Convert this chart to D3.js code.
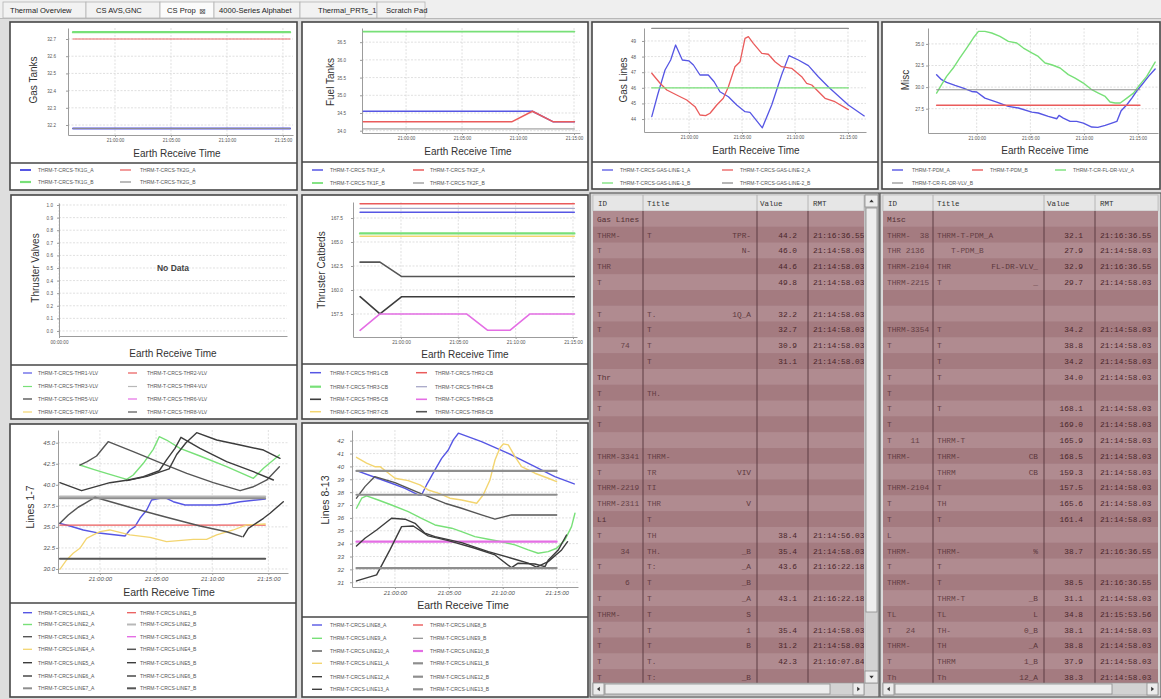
<!DOCTYPE html>
<html><head><meta charset="utf-8">
<script src="https://cdn.jsdelivr.net/npm/d3@7"></script>
<style>
html,body{margin:0;padding:0;background:#dedede;overflow:hidden}
svg{display:block;font-family:"Liberation Sans",Arial,sans-serif}
</style></head><body>
<script>
// ---------- tab bar ----------
const tabNames = ["Thermal Overview", "CS AVS,GNC", "CS Prop", "4000-Series Alphabet", "Thermal_PRTs_1", "Scratch Pad"];

// ---------- Gas Tanks ----------
const tankTK1G_A = [["20:56:15", 32.18], ["21:15:38", 32.18]];
const tankTK2G_A = [["20:56:15", 32.70], ["21:15:38", 32.70]];
const tankTK1G_B = [["20:56:15", 32.74], ["21:15:38", 32.74]];
const tankTK2G_B = [["20:56:15", 32.18], ["21:15:38", 32.18]];
const tankTicks = [32.2, 32.3, 32.4, 32.5, 32.6, 32.7];

// ---------- Fuel Tanks ----------
const fuelTK1F_A = [["20:56:11", 34.55], ["21:11:17", 34.55], ["21:13:09", 34.25], ["21:15:02", 34.25]];
const fuelTK2F_A = [["20:56:11", 34.25], ["21:09:26", 34.25], ["21:11:17", 34.55], ["21:13:09", 34.25], ["21:15:02", 34.25]];
const fuelTK1F_B = [["20:56:11", 36.8], ["21:15:02", 36.8]];
const fuelTK2F_B = [["20:56:11", 34.05], ["21:15:02", 34.05]];
const fuelTicks = [34.0, 34.5, 35.0, 35.5, 36.0, 36.5];

// ---------- Gas Lines ----------
const gasLine1A = [["20:56:29", 44.15], ["20:57:02", 45.54], ["20:57:44", 47.14], ["20:58:16", 47.78], ["20:58:44", 48.74],
  ["20:59:22", 47.78], ["21:00:00", 47.72], ["21:00:25", 47.46], ["21:01:02", 46.82], ["21:01:49", 46.82], ["21:02:22", 46.39],
  ["21:02:55", 45.75], ["21:03:43", 45.43], ["21:04:30", 44.9], ["21:05:17", 44.47], ["21:05:45", 44.43], ["21:06:55", 43.44],
  ["21:07:48", 44.9], ["21:08:44", 46.82], ["21:09:26", 48.06], ["21:10:19", 47.78], ["21:11:16", 47.42], ["21:12:12", 46.71],
  ["21:13:08", 46.07], ["21:15:02", 44.9], ["21:16:32", 44.2]];
const gasLine2A = [["20:56:29", 46.93], ["20:57:16", 46.29], ["20:57:54", 45.86], ["20:58:50", 45.54], ["20:59:47", 45.22],
  ["21:00:34", 44.79], ["21:01:02", 44.26], ["21:01:34", 44.22], ["21:01:59", 44.37], ["21:02:37", 44.9], ["21:03:14", 45.33],
  ["21:03:43", 46.07], ["21:04:20", 47.35], ["21:04:49", 47.67], ["21:05:17", 49.17], ["21:05:36", 49.28], ["21:06:04", 48.85],
  ["21:06:52", 48.21], ["21:07:29", 48.15], ["21:08:07", 47.67], ["21:08:44", 47.35], ["21:09:41", 47.25], ["21:10:38", 46.71],
  ["21:11:06", 46.29], ["21:11:35", 46.18], ["21:12:50", 45.33], ["21:13:46", 45.11], ["21:15:02", 44.6]];
const gasLine1B = [["20:56:29", 46.0], ["21:15:02", 46.0]];
const gasLine2B = [["20:56:29", 49.8], ["21:15:02", 49.8]];
const gasLineTicks = [44, 45, 46, 47, 48, 49];

// ---------- Misc ----------
const pdmA = [["20:56:16", 31.44], ["20:56:44", 30.86], ["20:57:12", 30.55], ["20:57:59", 30.2], ["20:58:45", 29.89],
  ["20:59:32", 29.5], ["21:00:00", 29.43], ["21:00:46", 28.73], ["21:01:52", 28.27], ["21:02:57", 27.77], ["21:03:53", 27.58],
  ["21:05:08", 27.11], ["21:05:44", 27.0], ["21:06:40", 26.61], ["21:07:28", 26.34], ["21:07:40", 26.73], ["21:08:04", 26.42],
  ["21:08:42", 26.03], ["21:09:19", 26.03], ["21:09:56", 25.84], ["21:10:43", 25.38], ["21:11:17", 25.34], ["21:11:58", 25.57],
  ["21:12:35", 25.84], ["21:13:03", 26.03], ["21:13:27", 27.27], ["21:13:59", 27.96], ["21:14:27", 28.73], ["21:14:55", 29.58],
  ["21:15:23", 30.28], ["21:16:00", 31.24], ["21:16:37", 32.1]];
const pdmB = [["20:56:16", 27.9], ["21:15:12", 27.9]];
const flDrVlvA = [["20:56:16", 29.31], ["20:56:44", 30.28], ["20:57:12", 31.24], ["20:57:49", 32.21], ["20:58:26", 33.37],
  ["20:59:04", 34.52], ["20:59:41", 35.68], ["21:00:10", 36.45], ["21:00:46", 36.45], ["21:01:24", 36.26], ["21:02:10", 35.87],
  ["21:02:57", 35.29], ["21:03:44", 35.1], ["21:04:21", 34.52], ["21:05:08", 33.95], ["21:05:44", 33.55], ["21:06:22", 32.79],
  ["21:06:59", 32.59], ["21:07:46", 32.21], ["21:08:32", 31.44], ["21:09:10", 31.05], ["21:09:56", 30.47], ["21:10:43", 29.7],
  ["21:11:20", 29.31], ["21:11:58", 28.92], ["21:12:25", 28.27], ["21:12:53", 28.16], ["21:13:22", 28.16], ["21:13:59", 28.73],
  ["21:14:36", 29.31], ["21:15:04", 30.08], ["21:15:50", 31.24], ["21:16:37", 32.9]];
const flDrVlvB = [["20:56:16", 29.7], ["21:15:12", 29.7]];
const miscTicks = [27.5, 30.0, 32.5, 35.0];

// ---------- Thruster Valves (no samples received) ----------
const thrVlv1 = [], thrVlv2 = [], thrVlv3 = [], thrVlv4 = [], thrVlv5 = [], thrVlv6 = [], thrVlv7 = [], thrVlv8 = [];
const valveTicks = [0, 0.1, 0.2, 0.3, 0.4, 0.5, 0.6, 0.7, 0.8, 0.9, 1.0];

// ---------- Thruster Catbeds ----------
const thr1CB = [["20:56:26", 168.1], ["21:15:07", 168.1]];
const thr2CB = [["20:56:26", 169.0], ["21:15:07", 169.0]];
const thr3CB = [["20:56:26", 165.9], ["21:15:07", 165.9]];
const thr4CB = [["20:56:26", 168.5], ["21:15:07", 168.5]];
const thr5CB = [["20:56:26", 159.3], ["20:58:10", 157.5], ["21:00:04", 159.3], ["21:15:07", 159.3]];
const thr6CB = [["20:56:26", 155.8], ["20:58:10", 157.5], ["21:05:43", 157.5], ["21:07:34", 155.8], ["21:09:30", 155.8], ["21:11:15", 157.5], ["21:15:07", 157.5]];
const thr7CB = [["20:56:26", 165.6], ["21:15:07", 165.6]];
const thr8CB = [["20:56:26", 162.9], ["20:58:10", 162.9], ["21:00:04", 161.4], ["21:15:07", 161.4]];
const catbedTicks = [157.5, 160.0, 162.5, 165.0, 167.5];

// ---------- Lines 1-7 ----------
const line1A = [["20:56:26", 35.42], ["20:57:20", 35.1], ["20:58:31", 34.63], ["20:59:42", 34.31], ["21:00:53", 34.12],
  ["21:02:14", 33.92], ["21:02:40", 34.63], ["21:03:07", 35.02], ["21:03:34", 36.02], ["21:04:10", 37.0], ["21:04:36", 38.19],
  ["21:05:21", 38.39], ["21:05:56", 38.39], ["21:06:32", 37.99], ["21:07:35", 37.6], ["21:10:24", 37.6], ["21:11:26", 37.72],
  ["21:12:29", 37.99], ["21:14:43", 38.3]];
const line1B = [["20:56:26", 35.2], ["21:14:43", 35.2]];
const line2A = [["20:58:13", 42.35], ["20:59:25", 41.84], ["21:00:35", 41.36], ["21:02:23", 40.65], ["21:02:58", 41.16],
  ["21:03:52", 42.55], ["21:04:45", 44.21], ["21:05:17", 45.71], ["21:05:56", 45.32], ["21:07:08", 44.33], ["21:08:55", 43.42],
  ["21:11:17", 42.15], ["21:13:40", 40.77], ["21:14:34", 41.96], ["21:15:59", 43.54]];
const line2B = [["20:56:26", 38.6], ["21:14:43", 38.6]];
const line3A = [["20:58:13", 42.35], ["20:58:52", 42.75], ["20:59:42", 43.42], ["21:00:44", 45.12], ["21:02:58", 43.93],
  ["21:05:21", 42.63], ["21:07:44", 41.36], ["21:10:06", 40.25], ["21:12:29", 39.3], ["21:13:40", 39.77], ["21:14:52", 40.57],
  ["21:15:59", 42.15]];
const line3B = [];
const line4A = [["20:56:26", 29.96], ["20:57:02", 31.07], ["20:57:37", 31.86], ["20:58:13", 32.45], ["20:58:49", 33.64],
  ["20:59:25", 34.04], ["21:00:00", 34.43], ["21:00:53", 34.63], ["21:02:40", 34.04], ["21:04:28", 33.76], ["21:05:56", 33.24],
  ["21:08:19", 33.52], ["21:09:30", 33.52], ["21:10:24", 34.04], ["21:11:53", 34.63], ["21:13:04", 35.23], ["21:14:43", 35.34]];
const line4B = [["20:56:26", 35.43], ["20:57:11", 36.41], ["20:58:04", 37.33], ["20:58:40", 37.8], ["20:59:33", 38.51],
  ["21:02:58", 37.21], ["21:05:56", 36.14], ["21:08:55", 35.1], ["21:11:17", 34.43], ["21:12:38", 33.84]];
const line5A = [["20:56:26", 40.25], ["20:58:22", 39.3], ["21:00:53", 40.25], ["21:02:31", 40.57], ["21:03:52", 40.96],
  ["21:05:17", 41.67], ["21:05:56", 42.95], ["21:06:41", 44.33], ["21:07:13", 45.64], ["21:08:55", 44.33], ["21:11:17", 42.75],
  ["21:13:40", 41.56], ["21:15:27", 40.57]];
const line5B = [["21:12:46", 33.84], ["21:13:13", 34.83], ["21:14:34", 36.02], ["21:15:09", 36.62], ["21:16:20", 37.99]];
const line6A = [["21:02:23", 40.5], ["21:04:12", 41.0], ["21:06:10", 41.9], ["21:06:50", 43.6], ["21:07:40", 45.0],
  ["21:08:37", 46.19], ["21:10:24", 45.32], ["21:12:29", 44.73], ["21:14:34", 44.13], ["21:16:02", 43.14]];
const line6B = [];
const line7A = [["20:56:26", 38.4], ["21:14:43", 38.4]];
const line7B = [["20:56:26", 31.2], ["21:14:43", 31.2]];
const lines17Ticks = [30.0, 32.5, 35.0, 37.5, 40.0, 42.5, 45.0];

// ---------- Lines 8-13 ----------
const line8A = [["20:56:26", 39.67], ["20:58:08", 39.16], ["20:59:41", 38.69], ["21:00:56", 38.3], ["21:02:10", 37.78],
  ["21:02:28", 37.78], ["21:02:56", 38.56], ["21:03:43", 39.73], ["21:04:20", 40.63], ["21:04:57", 41.28], ["21:05:25", 42.06],
  ["21:05:53", 42.58], ["21:08:02", 41.92], ["21:10:31", 41.02], ["21:12:59", 39.98], ["21:14:50", 39.2], ["21:16:38", 38.64]];
const line8B = [];
const line9A = [["20:56:26", 36.75], ["20:56:55", 37.53], ["20:57:22", 37.71], ["20:58:27", 37.39], ["20:59:41", 37.0],
  ["21:01:14", 36.49], ["21:02:28", 35.97], ["21:03:43", 35.45], ["21:05:16", 35.2], ["21:06:11", 34.93], ["21:07:25", 34.54],
  ["21:08:40", 34.34], ["21:09:54", 34.15], ["21:11:08", 33.9], ["21:12:22", 33.51], ["21:13:17", 33.25], ["21:14:13", 33.38],
  ["21:15:00", 33.64], ["21:15:46", 34.29], ["21:16:23", 35.32], ["21:16:42", 36.36]];
const line9B = [];
const line10A = [["20:56:26", 37.53], ["20:57:13", 38.43], ["20:58:08", 39.21], ["21:00:00", 38.74], ["21:02:28", 37.86],
  ["21:04:38", 37.14], ["21:06:11", 36.75], ["21:08:02", 36.23], ["21:09:17", 35.9], ["21:10:49", 36.23], ["21:15:00", 36.23]];
const line10B = [["20:56:26", 34.15], ["21:15:00", 34.15]];
const line11A = [["20:56:26", 40.71], ["20:57:22", 40.25], ["20:58:08", 39.98], ["20:58:37", 39.98], ["20:59:14", 39.59],
  ["21:00:00", 39.08], ["21:01:14", 38.9], ["21:02:19", 38.56], ["21:03:05", 38.17], ["21:04:01", 37.92], ["21:05:06", 37.53],
  ["21:06:11", 37.39], ["21:07:35", 37.14], ["21:08:11", 37.78], ["21:08:49", 38.95], ["21:09:17", 40.5], ["21:09:44", 41.41],
  ["21:10:03", 41.75], ["21:10:31", 41.67], ["21:11:08", 40.76], ["21:11:45", 39.98], ["21:12:59", 39.47], ["21:14:13", 39.08],
  ["21:15:00", 38.82]];
const line11B = [["20:56:26", 39.65], ["21:15:00", 39.65]];
const line12A = [["20:56:26", 33.82], ["20:57:13", 34.42], ["20:58:18", 35.06], ["20:59:41", 35.97], ["21:00:56", 35.9],
  ["21:01:52", 35.58], ["21:02:47", 34.81], ["21:03:43", 34.54], ["21:06:11", 34.08], ["21:08:40", 33.38], ["21:11:08", 32.79],
  ["21:12:22", 32.48], ["21:13:08", 32.17], ["21:14:13", 32.6], ["21:15:28", 33.51], ["21:16:01", 34.15]];
const line12B = [["20:56:26", 37.8], ["21:15:00", 37.8]];
const line13A = [["20:56:26", 31.1], ["20:58:18", 31.57], ["20:59:32", 33.51], ["21:00:37", 35.32], ["21:01:42", 35.37],
  ["21:03:05", 34.6], ["21:04:57", 34.23], ["21:07:25", 33.64], ["21:09:17", 33.12], ["21:10:49", 32.13], ["21:11:26", 32.48],
  ["21:12:59", 32.42], ["21:13:55", 32.21], ["21:14:13", 32.7], ["21:15:09", 33.5], ["21:15:55", 34.67]];
const line13B = [["20:56:26", 32.1], ["21:15:00", 32.1]];
const lines813Ticks = [31, 32, 33, 34, 35, 36, 37, 38, 39, 40, 41, 42];

const timeTicks = ["21:00:00", "21:05:00", "21:10:00", "21:15:00"];

// ---------- value tables ----------
const gasTableIds = ["Gas Lines", "THRM-", "T", "THR", "T", "", "T", "T", "     74", "", "Thr", "T", "T", "T", "", "THRM-3341", "T",
  "THRM-2219", "THRM-2311", "Li", "T", "     34", "T", "      6", "T", "THRM-", "T", "T", "T", "T"];
const gasTableTitles = ["", "T", "", "", "", "", "T.", "T", "T", "T", "", "TH.", "", "", "", "THRM-", "TR", "TI", "THR", "T", "TH",
  "TH.", "T:", "T", "T", "T", "T", "T", "T.", "T:"];
const gasTableTitleEnds = ["", "TPR-", "N-", "", "", "", "1Q_A", "", "", "", "", "", "", "", "", "", "VIV", "", "V", "", "",
  "_B", "_A", "_B", "_A", "S", "1", "B", "", "_B"];
const gasTableValues = ["", "44.2", "46.0", "44.6", "49.8", "", "32.2", "32.7", "30.9", "31.1", "", "", "", "", "", "", "", "",
  "", "", "38.4", "35.4", "43.6", "", "43.1", "", "35.4", "31.2", "42.3", ""];
const gasTableRmt = ["", "21:16:36.55", "21:14:58.03", "21:14:58.03", "21:14:58.03", "", "21:14:58.03", "21:14:58.03",
  "21:14:58.03", "21:14:58.03", "", "", "", "", "", "", "", "", "", "", "21:14:56.03", "21:14:58.03", "21:16:22.18", "",
  "21:16:22.18", "", "21:14:58.03", "21:14:58.03", "21:16:07.84", ""];
const gasTableGroups = [0, 10, 19];

const miscTableIds = ["Misc", "THRM-  38", "THR 2136", "THRM-2104", "THRM-2215", "", "", "THRM-3354", "T", "", "T", "T", "T",
  "T", "T    11", "THRM-", "", "THRM-2104", "T", "T", "L", "THRM-", "T", "THRM-", "", "TL", "T   24", "THRM-", "T", "Th"];
const miscTableTitles = ["", "THRM-T-PDM_A", "   T-PDM_B", "THR", "T", "", "", "T", "T", "T", "T", "", "T", "", "THRM-T",
  "THRM-", "THRM", "T", "TH", "T", "", "THRM-", "T", "T", "THRM-T", "TL", "TH-", "TH", "THRM", "Th"];
const miscTableTitleEnds = ["", "", "", "FL-DR-VLV_", "_", "", "", "", "", "", "", "", "", "", "", "CB", "CB", "", "", "", "",
  "%", "", "", "_B", "L", "0_B", "_A", "1_B", "12_A"];
const miscTableValues = ["", "32.1", "27.9", "32.9", "29.7", "", "", "34.2", "38.8", "34.2", "34.0", "", "168.1", "169.0",
  "165.9", "168.5", "159.3", "157.5", "165.6", "161.4", "", "38.7", "", "38.5", "31.1", "34.8", "38.1", "38.8", "37.9", "38.3"];
const miscTableRmt = ["", "21:16:36.55", "21:14:58.03", "21:16:36.55", "21:14:58.03", "", "", "21:14:58.03", "21:14:58.03",
  "21:14:58.03", "21:14:58.03", "", "21:14:58.03", "21:14:58.03", "21:14:58.03", "21:14:58.03", "21:14:58.03", "21:14:58.03",
  "21:14:58.03", "21:14:58.03", "", "21:16:36.55", "", "21:16:36.55", "21:14:58.03", "21:15:53.56", "21:14:58.03",
  "21:14:58.03", "21:14:58.03", "21:14:58.03"];
const miscTableGroups = [0];

const tableHeaders = ["ID", "Title", "Value", "RMT"];

// ---------- drawing ----------
const W = 1161, H = 699;
const svg = d3.select("body").append("svg").attr("width", W).attr("height", H);
const defs = svg.append("defs");
const parseT = d3.timeParse("%H:%M:%S");
const fmtT = d3.timeFormat("%H:%M:%S");

const C = {
  blue: "#5656e4", red: "#ea5b5b", green: "#78e078", lgray: "#b8b8b8", gray: "#8e8e8e",
  dgray: "#555555", black: "#3c3c3c", magenta: "#e46ee4", yellow: "#f3d570"
};

// tab strip
(function drawTabs() {
  const g = svg.append("g");
  g.append("rect").attr("x", 0).attr("y", 0).attr("width", W).attr("height", 19).attr("fill", "#efefef");
  const edges = [3, 86, 160, 214, 300, 377, 425];
  const textX = [10, 96, 167, 219, 318, 386];
  tabNames.forEach((n, i) => {
    g.append("rect").attr("x", edges[i]).attr("y", 2).attr("width", edges[i + 1] - edges[i]).attr("height", 16)
      .attr("fill", i === 2 ? "#fbfbfb" : "#f2f2f2").attr("stroke", "#b4b4b4").attr("stroke-width", 0.8);
    g.append("text").attr("x", textX[i]).attr("y", 13).attr("font-size", 7.6).attr("fill", "#222").text(n);
  });
  g.append("text").attr("x", 199).attr("y", 13.5).attr("font-size", 8).attr("font-family", "DejaVu Sans")
    .attr("fill", "#555").text("\u22A0");
  g.append("line").attr("x1", 0).attr("x2", W).attr("y1", 18.5).attr("y2", 18.5).attr("stroke", "#b8b8b8");
})();

function drawChart(c) {
  const g = svg.append("g");
  const [fx0, fy0, fx1, fy1] = c.frame;
  g.append("rect").attr("x", fx0).attr("y", fy0).attr("width", fx1 - fx0).attr("height", fy1 - fy0)
    .attr("fill", "#fff").attr("stroke", "#464646").attr("stroke-width", 1.6);
  g.append("line").attr("x1", fx0).attr("x2", fx1).attr("y1", c.legendTop).attr("y2", c.legendTop)
    .attr("stroke", "#464646").attr("stroke-width", 1.6);

  const x = d3.scaleTime().domain(c.xDomain.map(parseT)).range([c.plot.l, c.plot.r]);
  const y = d3.scaleLinear().domain(c.yDomain).range([c.plot.b, c.plot.t]);
  const xt = c.xTicks.map(parseT);

  // grid
  g.append("g").selectAll("line").data(c.yTicks).join("line")
    .attr("x1", c.plot.l).attr("x2", c.plot.r).attr("y1", d => y(d)).attr("y2", d => y(d))
    .attr("stroke", "#d2d2d2").attr("stroke-width", 0.7).attr("stroke-dasharray", "2,1.5");
  g.append("g").selectAll("line").data(xt).join("line")
    .attr("x1", d => x(d)).attr("x2", d => x(d)).attr("y1", c.plot.t).attr("y2", c.plot.b)
    .attr("stroke", "#d2d2d2").attr("stroke-width", 0.7).attr("stroke-dasharray", "2,1.5");

  // axes
  const ax = g.append("g").attr("transform", `translate(0,${c.plot.b})`)
    .call(d3.axisBottom(x).tickValues(xt).tickFormat(fmtT).tickSize(2).tickSizeOuter(0).tickPadding(c.xPad));
  const ay = g.append("g").attr("transform", `translate(${c.plot.l},0)`)
    .call(d3.axisLeft(y).tickValues(c.yTicks).tickFormat(d3.format(c.yFmt)).tickSize(2).tickSizeOuter(0).tickPadding(c.yPad));
  [ax, ay].forEach(a => {
    a.attr("font-size", c.tickFont).attr("font-family", '"Liberation Sans",Arial,sans-serif');
    a.select(".domain").attr("stroke", "#9c9c9c").attr("stroke-width", 1);
    a.selectAll(".tick line").attr("stroke", "#9c9c9c");
    a.selectAll(".tick text").attr("fill", "#555").attr("font-style", c.italic ? "italic" : "normal");
  });

  // series
  const line = d3.line().x(d => x(parseT(d[0]))).y(d => y(d[1]));
  c.series.forEach(s => {
    if (!s.data.length) return;
    g.append("path").attr("d", line(s.data)).attr("fill", "none").attr("stroke", s.color)
      .attr("stroke-width", s.width).attr("stroke-linejoin", "round").attr("stroke-linecap", "round");
  });

  if (c.noData) {
    g.append("text").attr("x", c.noData[0]).attr("y", c.noData[1]).attr("text-anchor", "middle")
      .attr("font-size", 8.5).attr("font-weight", "bold").attr("fill", "#444").text("No Data");
  }

  // axis titles
  g.append("text").attr("x", c.xTitle[0]).attr("y", c.xTitle[1]).attr("text-anchor", "middle")
    .attr("font-size", c.titleFont).attr("fill", "#333").text("Earth Receive Time");
  g.append("text").attr("transform", `translate(${c.yTitle[0]},${c.yTitle[1]}) rotate(-90)`)
    .attr("text-anchor", "middle").attr("font-size", c.titleFont).attr("fill", "#333").text(c.yLabel);

  // legend
  const nc = c.legend.cols.length;
  c.series.forEach((s, i) => {
    const col = c.legend.cols[i % nc];
    const ry = c.legend.rows[Math.floor(i / nc)];
    g.append("line").attr("x1", col[0]).attr("x2", col[0] + c.legend.sw).attr("y1", ry).attr("y2", ry)
      .attr("stroke", s.color).attr("stroke-width", Math.min(2.2, Math.max(1.2, s.width)));
    g.append("text").attr("x", col[1]).attr("y", ry + 1.8).attr("font-size", 5).attr("fill", "#555").text(s.name);
  });
}

const ser = (name, data, color, width) => ({ name, data, color, width });

drawChart({
  frame: [10, 22, 297, 190], legendTop: 163,
  plot: { l: 68, r: 293, t: 28, b: 135 },
  xDomain: ["20:55:48", "21:15:54"], xTicks: timeTicks, xPad: 2,
  yDomain: [32.142, 32.764], yTicks: tankTicks, yFmt: ".1f", yPad: 10,
  tickFont: 4.5, titleFont: 10, yLabel: "Gas Tanks",
  xTitle: [177, 157], yTitle: [37, 80],
  series: [
    ser("THRM-T-CRCS-TK1G_A", tankTK1G_A, C.blue, 2),
    ser("THRM-T-CRCS-TK2G_A", tankTK2G_A, C.red, 0.9),
    ser("THRM-T-CRCS-TK1G_B", tankTK1G_B, C.green, 2.4),
    ser("THRM-T-CRCS-TK2G_B", tankTK2G_B, C.gray, 1)
  ],
  legend: { rows: [170, 182], cols: [[20, 38], [120, 140]], sw: 11 }
});

drawChart({
  frame: [302, 22, 588, 190], legendTop: 162,
  plot: { l: 362, r: 580, t: 28, b: 133 },
  xDomain: ["20:56:04", "21:15:32"], xTicks: timeTicks, xPad: 2,
  yDomain: [33.935, 36.9], yTicks: fuelTicks, yFmt: ".1f", yPad: 14,
  tickFont: 4.5, titleFont: 10, yLabel: "Fuel Tanks",
  xTitle: [468, 155], yTitle: [333.5, 82],
  series: [
    ser("THRM-T-CRCS-TK1F_A", fuelTK1F_A, C.blue, 1.5),
    ser("THRM-T-CRCS-TK2F_A", fuelTK2F_A, C.red, 1.5),
    ser("THRM-T-CRCS-TK1F_B", fuelTK1F_B, C.green, 1.8),
    ser("THRM-T-CRCS-TK2F_B", fuelTK2F_B, C.gray, 1)
  ],
  legend: { rows: [170, 183], cols: [[312, 330], [413, 430]], sw: 11 }
});

drawChart({
  frame: [592, 22, 878, 189], legendTop: 162,
  plot: { l: 644, r: 866, t: 28, b: 132 },
  xDomain: ["20:55:45", "21:16:42"], xTicks: timeTicks, xPad: 2,
  yDomain: [43.17, 49.83], yTicks: gasLineTicks, yFmt: "d", yPad: 6,
  tickFont: 4.5, titleFont: 10, yLabel: "Gas Lines",
  xTitle: [756, 154], yTitle: [626.5, 80],
  series: [
    ser("THRM-T-CRCS-GAS-LINE-1_A", gasLine1A, C.blue, 1.3),
    ser("THRM-T-CRCS-GAS-LINE-2_A", gasLine2A, C.red, 1.3),
    ser("THRM-T-CRCS-GAS-LINE-1_B", gasLine1B, C.green, 1.3),
    ser("THRM-T-CRCS-GAS-LINE-2_B", gasLine2B, C.gray, 1.3)
  ],
  legend: { rows: [170, 183], cols: [[602, 620], [722, 740]], sw: 11 }
});

drawChart({
  frame: [882, 22, 1160, 189], legendTop: 162,
  plot: { l: 928, r: 1158, t: 28, b: 133 },
  xDomain: ["20:55:28", "21:16:53"], xTicks: timeTicks, xPad: 2,
  yDomain: [24.69, 36.84], yTicks: miscTicks, yFmt: ".1f", yPad: 2,
  tickFont: 4.5, titleFont: 10, yLabel: "Misc",
  xTitle: [1045, 154], yTitle: [908.5, 80],
  series: [
    ser("THRM-T-PDM_A", pdmA, C.blue, 1.4),
    ser("THRM-T-PDM_B", pdmB, C.red, 1.4),
    ser("THRM-T-CR-FL-DR-VLV_A", flDrVlvA, C.green, 1.4),
    ser("THRM-T-CR-FL-DR-VLV_B", flDrVlvB, C.gray, 1.1)
  ],
  legend: { rows: [170, 183], cols: [[892, 912], [972, 990], [1055, 1073]], sw: 11 }
});

drawChart({
  frame: [11, 195, 297, 419], legendTop: 365,
  plot: { l: 59, r: 287, t: 203, b: 336 },
  xDomain: ["00:00:00", "00:00:10"], xTicks: ["00:00:00"], xPad: 3,
  yDomain: [-0.04, 1.016], yTicks: valveTicks, yFmt: ".1f", yPad: 4,
  tickFont: 4.6, titleFont: 10, yLabel: "Thruster Valves",
  xTitle: [173, 357], yTitle: [38.5, 268], noData: [173, 271],
  series: [
    ser("THRM-T-CRCS-THR1-VLV", thrVlv1, C.blue, 1.2),
    ser("THRM-T-CRCS-THR2-VLV", thrVlv2, C.red, 1.2),
    ser("THRM-T-CRCS-THR3-VLV", thrVlv3, C.green, 1.2),
    ser("THRM-T-CRCS-THR4-VLV", thrVlv4, C.lgray, 1.2),
    ser("THRM-T-CRCS-THR5-VLV", thrVlv5, C.black, 1.2),
    ser("THRM-T-CRCS-THR6-VLV", thrVlv6, C.magenta, 1.2),
    ser("THRM-T-CRCS-THR7-VLV", thrVlv7, C.yellow, 1.2),
    ser("THRM-T-CRCS-THR8-VLV", thrVlv8, C.dgray, 1.2)
  ],
  legend: { rows: [373, 386.5, 399, 412], cols: [[23, 38], [128, 147]], sw: 9 }
});

drawChart({
  frame: [302, 195, 588, 419], legendTop: 364,
  plot: { l: 353, r: 577, t: 202, b: 337 },
  xDomain: ["20:55:49", "21:15:21"], xTicks: timeTicks, xPad: 2,
  yDomain: [155.1, 169.17], yTicks: catbedTicks, yFmt: ".1f", yPad: 8,
  tickFont: 4.8, titleFont: 10, yLabel: "Thruster Catbeds",
  xTitle: [465, 358], yTitle: [324.5, 270],
  series: [
    ser("THRM-T-CRCS-THR1-CB", thr1CB, C.blue, 1.5),
    ser("THRM-T-CRCS-THR2-CB", thr2CB, C.red, 1.5),
    ser("THRM-T-CRCS-THR3-CB", thr3CB, C.green, 2.4),
    ser("THRM-T-CRCS-THR4-CB", thr4CB, "#a8a8c8", 1.3),
    ser("THRM-T-CRCS-THR5-CB", thr5CB, C.black, 1.6),
    ser("THRM-T-CRCS-THR6-CB", thr6CB, C.magenta, 1.6),
    ser("THRM-T-CRCS-THR7-CB", thr7CB, C.yellow, 1.5),
    ser("THRM-T-CRCS-THR8-CB", thr8CB, C.dgray, 1.6)
  ],
  legend: { rows: [372.7, 386.7, 399.3, 411.7], cols: [[310, 330], [416, 435]], sw: 11 }
});

drawChart({
  frame: [10, 424, 296, 697], legendTop: 603,
  plot: { l: 58, r: 288, t: 430, b: 573 },
  xDomain: ["20:56:16", "21:16:45"], xTicks: timeTicks, xPad: 2,
  yDomain: [29.52, 46.51], yTicks: lines17Ticks, yFmt: ".1f", yPad: 1,
  tickFont: 6, italic: true, titleFont: 10.5, yLabel: "Lines 1-7",
  xTitle: [169, 596], yTitle: [33.5, 507],
  series: [
    ser("THRM-T-CRCS-LINE1_A", line1A, C.blue, 1.4),
    ser("THRM-T-CRCS-LINE1_B", line1B, C.red, 1.3),
    ser("THRM-T-CRCS-LINE2_A", line2A, C.green, 1.4),
    ser("THRM-T-CRCS-LINE2_B", line2B, C.lgray, 2),
    ser("THRM-T-CRCS-LINE3_A", line3A, C.dgray, 1.4),
    ser("THRM-T-CRCS-LINE3_B", line3B, C.magenta, 1.4),
    ser("THRM-T-CRCS-LINE4_A", line4A, C.yellow, 1.3),
    ser("THRM-T-CRCS-LINE4_B", line4B, C.dgray, 1.5),
    ser("THRM-T-CRCS-LINE5_A", line5A, C.black, 1.4),
    ser("THRM-T-CRCS-LINE5_B", line5B, C.black, 1.4),
    ser("THRM-T-CRCS-LINE6_A", line6A, C.black, 1.4),
    ser("THRM-T-CRCS-LINE6_B", line6B, C.black, 1.4),
    ser("THRM-T-CRCS-LINE7_A", line7A, C.gray, 2),
    ser("THRM-T-CRCS-LINE7_B", line7B, C.dgray, 2)
  ],
  legend: { rows: [612.7, 624.5, 636.7, 649.3, 662.7, 676, 688.3], cols: [[23, 38], [127, 140]], sw: 9 }
});

drawChart({
  frame: [302, 423, 588, 697], legendTop: 617,
  plot: { l: 352, r: 578, t: 430, b: 587 },
  xDomain: ["20:56:01", "21:16:59"], xTicks: timeTicks, xPad: 2,
  yDomain: [30.63, 42.83], yTicks: lines813Ticks, yFmt: "d", yPad: 6,
  tickFont: 6, italic: true, titleFont: 10.5, yLabel: "Lines 8-13",
  xTitle: [463, 608.5], yTitle: [328.5, 500],
  series: [
    ser("THRM-T-CRCS-LINE8_A", line8A, C.blue, 1.4),
    ser("THRM-T-CRCS-LINE8_B", line8B, C.red, 1.4),
    ser("THRM-T-CRCS-LINE9_A", line9A, C.green, 1.4),
    ser("THRM-T-CRCS-LINE9_B", line9B, C.gray, 0.9),
    ser("THRM-T-CRCS-LINE10_A", line10A, C.dgray, 1.4),
    ser("THRM-T-CRCS-LINE10_B", line10B, C.magenta, 2.2),
    ser("THRM-T-CRCS-LINE11_A", line11A, C.yellow, 1.4),
    ser("THRM-T-CRCS-LINE11_B", line11B, C.gray, 2.2),
    ser("THRM-T-CRCS-LINE12_A", line12A, C.black, 1.4),
    ser("THRM-T-CRCS-LINE12_B", line12B, C.gray, 2.2),
    ser("THRM-T-CRCS-LINE13_A", line13A, C.black, 1.4),
    ser("THRM-T-CRCS-LINE13_B", line13B, C.gray, 2.2)
  ],
  legend: { rows: [625, 638.3, 651, 663.3, 676.7, 689.3], cols: [[312, 330], [413, 430]], sw: 10 }
});

// ---------- tables ----------
let clipId = 0;
function clip(x0, y0, x1, y1) {
  const id = "clip" + (clipId++);
  defs.append("clipPath").attr("id", id).append("rect").attr("x", x0).attr("y", y0).attr("width", x1 - x0).attr("height", y1 - y0);
  return `url(#${id})`;
}

function arrowBtn(g, x, y, w, h, dir) {
  g.append("rect").attr("x", x).attr("y", y).attr("width", w).attr("height", h)
    .attr("fill", "#ececec").attr("stroke", "#8c8c8c").attr("stroke-width", 0.8);
  const cx = x + w / 2, cy = y + h / 2, s = 2.2;
  const pts = {
    up: [[cx - s, cy + s * 0.6], [cx + s, cy + s * 0.6], [cx, cy - s * 0.7]],
    down: [[cx - s, cy - s * 0.6], [cx + s, cy - s * 0.6], [cx, cy + s * 0.7]],
    left: [[cx + s * 0.6, cy - s], [cx + s * 0.6, cy + s], [cx - s * 0.7, cy]],
    right: [[cx - s * 0.6, cy - s], [cx - s * 0.6, cy + s], [cx + s * 0.7, cy]]
  }[dir];
  g.append("path").attr("d", d3.line()(pts) + "Z").attr("fill", "#333");
}

function drawTable(t) {
  const g = svg.append("g").attr("font-family", '"Liberation Mono","DejaVu Sans Mono",monospace');
  const [c0, c1, c2, c3, c4] = t.cols;
  const top = 195, headH = 16, rowH = 15.8, bodyTop = top + headH, bodyBot = 683;
  g.append("rect").attr("x", t.frame[0]).attr("y", t.frame[1]).attr("width", t.frame[2] - t.frame[0])
    .attr("height", t.frame[3] - t.frame[1]).attr("fill", "#d9d9d9").attr("stroke", "#5a5a5a").attr("stroke-width", 1.2);
  // header
  g.append("rect").attr("x", c0).attr("y", top).attr("width", c4 - c0).attr("height", headH).attr("fill", "#e6e6e6")
    .attr("stroke", "#b0b0b0").attr("stroke-width", 0.6);
  [c1, c2, c3].forEach(cx => g.append("line").attr("x1", cx).attr("x2", cx).attr("y1", top).attr("y2", bodyTop)
    .attr("stroke", "#a8a8a8").attr("stroke-width", 0.8));
  const hx = [c0 + 5, c1 + 4, c2 + 3, c3 + 5];
  tableHeaders.forEach((h, i) => g.append("text").attr("x", hx[i]).attr("y", top + 11).attr("font-size", 7.5)
    .attr("fill", "#333").text(h));

  // body stripes
  const body = g.append("g").attr("clip-path", clip(c0, bodyTop, c4, bodyBot));
  body.append("rect").attr("x", c0).attr("y", bodyTop).attr("width", c4 - c0).attr("height", bodyBot - bodyTop).attr("fill", "#aa8489");
  body.selectAll("rect.row").data(t.ids).join("rect").attr("class", "row")
    .attr("x", c0).attr("y", (d, i) => bodyTop + i * rowH).attr("width", c4 - c0).attr("height", rowH)
    .attr("fill", (d, i) => i % 2 ? "#a47b80" : "#b08b90");
  [c1, c2, c3].forEach(cx => body.append("line").attr("x1", cx).attr("x2", cx).attr("y1", bodyTop).attr("y2", bodyBot)
    .attr("stroke", "#5c3d42").attr("stroke-width", 1));

  const base = i => bodyTop + i * rowH + 10.8;
  const txt = body.append("g").attr("font-size", 7.8).attr("fill", "#4a262b");
  const idClip = clip(c0, bodyTop, c1 - 1, bodyBot);
  t.ids.forEach((s, i) => {
    if (!s) return;
    const isGroup = t.groups.includes(i);
    txt.append("text").attr("xml:space", "preserve").attr("x", c0 + 4).attr("y", base(i))
      .attr("clip-path", isGroup ? null : idClip).attr("opacity", isGroup ? 0.9 : 0.72).text(s);
  });
  const titleClip = clip(c1 + 1, bodyTop, c2 - 1, bodyBot);
  t.titles.forEach((s, i) => {
    if (s) txt.append("text").attr("xml:space", "preserve").attr("x", c1 + 4).attr("y", base(i))
      .attr("clip-path", titleClip).attr("opacity", 0.72).text(s);
  });
  t.titleEnds.forEach((s, i) => {
    if (s) txt.append("text").attr("x", c2 - 6).attr("y", base(i)).attr("text-anchor", "end")
      .attr("clip-path", titleClip).attr("opacity", 0.8).text(s);
  });
  t.values.forEach((s, i) => {
    if (s) txt.append("text").attr("x", c3 - t.valPad).attr("y", base(i)).attr("text-anchor", "end").text(s);
  });
  const rmtClip = clip(c3 + 1, bodyTop, c4, bodyBot);
  t.rmt.forEach((s, i) => {
    if (s) txt.append("text").attr("x", c3 + 5).attr("y", base(i)).attr("clip-path", rmtClip).text(s);
  });

  // horizontal scrollbar
  const sb = g.append("g");
  const hs = t.hScroll;
  sb.append("rect").attr("x", hs[0]).attr("y", 683).attr("width", hs[1] - hs[0]).attr("height", 12)
    .attr("fill", "#d2d2d2").attr("stroke", "#999").attr("stroke-width", 0.6);
  arrowBtn(sb, hs[0], 683, 11, 12, "left");
  sb.append("rect").attr("x", hs[0] + 12).attr("y", 684).attr("width", hs[2] - hs[0] - 12).attr("height", 10)
    .attr("fill", "#ededed").attr("stroke", "#8a8a8a").attr("stroke-width", 0.8);
  arrowBtn(sb, hs[1] - 11, 683, 11, 12, "right");

  if (t.vScroll) {
    const vs = t.vScroll;
    sb.append("rect").attr("x", vs[0]).attr("y", top).attr("width", 13).attr("height", bodyBot - top)
      .attr("fill", "#d2d2d2").attr("stroke", "#999").attr("stroke-width", 0.6);
    arrowBtn(sb, vs[0], top, 13, 12, "up");
    sb.append("rect").attr("x", vs[0] + 1).attr("y", top + 13).attr("width", 11).attr("height", vs[1] - top - 13)
      .attr("fill", "#ededed").attr("stroke", "#8a8a8a").attr("stroke-width", 0.8);
    arrowBtn(sb, vs[0], bodyBot - 12, 13, 12, "down");
  }
}

drawTable({
  frame: [590, 193, 879, 697], cols: [593, 643, 757, 808, 864], valPad: 11,
  ids: gasTableIds, titles: gasTableTitles, titleEnds: gasTableTitleEnds,
  values: gasTableValues, rmt: gasTableRmt, groups: gasTableGroups,
  hScroll: [593, 864, 830], vScroll: [865, 612]
});

drawTable({
  frame: [880, 193, 1161, 697], cols: [883, 933, 1044, 1095, 1158], valPad: 12,
  ids: miscTableIds, titles: miscTableTitles, titleEnds: miscTableTitleEnds,
  values: miscTableValues, rmt: miscTableRmt, groups: miscTableGroups,
  hScroll: [883, 1158, 1112]
});
</script>
</body></html>
